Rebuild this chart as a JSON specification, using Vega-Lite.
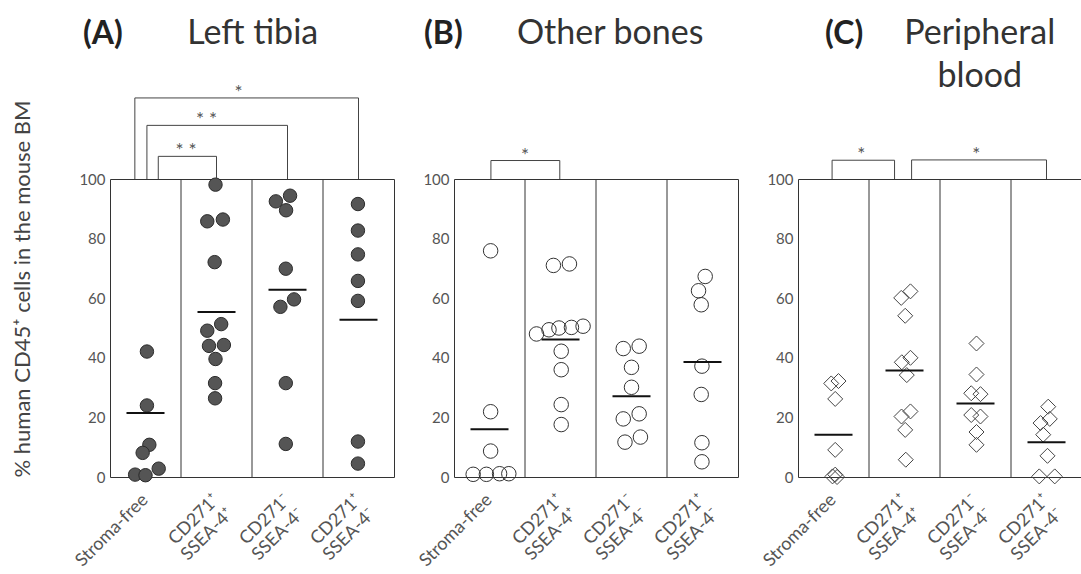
{
  "$schema": "https://vega.github.io/schema/vega-lite/v6.json",
  "padding": {"left": 11, "top": 16, "right": 0, "bottom": 0},
  "background": "white",
  "config": {
    "view": {"stroke": "#333", "strokeWidth": 1},
    "font": "Lato",
    "axis": {"labelFont": "Lato", "titleFont": "Lato", "labelColor": "#555", "labelFontSize": 15}
  },
  "datasets": {
    "points": [
      {"panel": "A", "group": "Stroma-free", "value": 42.1, "jit": 0.1},
      {"panel": "A", "group": "Stroma-free", "value": 24.0, "jit": 0.1},
      {"panel": "A", "group": "Stroma-free", "value": 10.8, "jit": 0.27},
      {"panel": "A", "group": "Stroma-free", "value": 8.1, "jit": -0.2},
      {"panel": "A", "group": "Stroma-free", "value": 2.8, "jit": 0.93},
      {"panel": "A", "group": "Stroma-free", "value": 0.8, "jit": -0.73},
      {"panel": "A", "group": "Stroma-free", "value": 0.6, "jit": 0},
      {"panel": "A", "group": "CD271⁺ SSEA-4⁺", "value": 98.1, "jit": -0.07},
      {"panel": "A", "group": "CD271⁺ SSEA-4⁺", "value": 85.8, "jit": -0.65},
      {"panel": "A", "group": "CD271⁺ SSEA-4⁺", "value": 86.4, "jit": 0.45},
      {"panel": "A", "group": "CD271⁺ SSEA-4⁺", "value": 72.1, "jit": -0.13},
      {"panel": "A", "group": "CD271⁺ SSEA-4⁺", "value": 51.3, "jit": 0.33},
      {"panel": "A", "group": "CD271⁺ SSEA-4⁺", "value": 49.1, "jit": -0.65},
      {"panel": "A", "group": "CD271⁺ SSEA-4⁺", "value": 44.0, "jit": -0.53},
      {"panel": "A", "group": "CD271⁺ SSEA-4⁺", "value": 44.3, "jit": 0.52},
      {"panel": "A", "group": "CD271⁺ SSEA-4⁺", "value": 39.6, "jit": -0.07},
      {"panel": "A", "group": "CD271⁺ SSEA-4⁺", "value": 31.5, "jit": -0.1},
      {"panel": "A", "group": "CD271⁺ SSEA-4⁺", "value": 26.4, "jit": -0.1},
      {"panel": "A", "group": "CD271⁻ SSEA-4⁻", "value": 92.5, "jit": -0.82},
      {"panel": "A", "group": "CD271⁻ SSEA-4⁻", "value": 94.4, "jit": 0.18},
      {"panel": "A", "group": "CD271⁻ SSEA-4⁻", "value": 89.5, "jit": -0.1},
      {"panel": "A", "group": "CD271⁻ SSEA-4⁻", "value": 69.9, "jit": -0.12},
      {"panel": "A", "group": "CD271⁻ SSEA-4⁻", "value": 59.6, "jit": 0.46},
      {"panel": "A", "group": "CD271⁻ SSEA-4⁻", "value": 57.1, "jit": -0.5},
      {"panel": "A", "group": "CD271⁻ SSEA-4⁻", "value": 31.5, "jit": -0.12},
      {"panel": "A", "group": "CD271⁻ SSEA-4⁻", "value": 11.1, "jit": -0.12},
      {"panel": "A", "group": "CD271⁺ SSEA-4⁻", "value": 91.6, "jit": -0.04},
      {"panel": "A", "group": "CD271⁺ SSEA-4⁻", "value": 82.7, "jit": -0.04},
      {"panel": "A", "group": "CD271⁺ SSEA-4⁻", "value": 74.7, "jit": -0.04},
      {"panel": "A", "group": "CD271⁺ SSEA-4⁻", "value": 65.8, "jit": -0.04},
      {"panel": "A", "group": "CD271⁺ SSEA-4⁻", "value": 59.1, "jit": -0.04},
      {"panel": "A", "group": "CD271⁺ SSEA-4⁻", "value": 11.9, "jit": -0.04},
      {"panel": "A", "group": "CD271⁺ SSEA-4⁻", "value": 4.5, "jit": -0.04},
      {"panel": "B", "group": "Stroma-free", "value": 75.9, "jit": 0.08},
      {"panel": "B", "group": "Stroma-free", "value": 21.9, "jit": 0.08},
      {"panel": "B", "group": "Stroma-free", "value": 8.7, "jit": 0.08},
      {"panel": "B", "group": "Stroma-free", "value": 0.9, "jit": -1.15},
      {"panel": "B", "group": "Stroma-free", "value": 0.9, "jit": -0.22},
      {"panel": "B", "group": "Stroma-free", "value": 1.1, "jit": 0.71},
      {"panel": "B", "group": "Stroma-free", "value": 1.1, "jit": 1.36},
      {"panel": "B", "group": "CD271⁺ SSEA-4⁺", "value": 71.0, "jit": -0.5},
      {"panel": "B", "group": "CD271⁺ SSEA-4⁺", "value": 71.5, "jit": 0.63},
      {"panel": "B", "group": "CD271⁺ SSEA-4⁺", "value": 48.0, "jit": -1.69},
      {"panel": "B", "group": "CD271⁺ SSEA-4⁺", "value": 49.4, "jit": -0.81},
      {"panel": "B", "group": "CD271⁺ SSEA-4⁺", "value": 50.0, "jit": -0.11},
      {"panel": "B", "group": "CD271⁺ SSEA-4⁺", "value": 50.2, "jit": 0.77},
      {"panel": "B", "group": "CD271⁺ SSEA-4⁺", "value": 50.6, "jit": 1.59},
      {"panel": "B", "group": "CD271⁺ SSEA-4⁺", "value": 42.2, "jit": 0.05},
      {"panel": "B", "group": "CD271⁺ SSEA-4⁺", "value": 36.0, "jit": 0.05},
      {"panel": "B", "group": "CD271⁺ SSEA-4⁺", "value": 24.3, "jit": 0.05},
      {"panel": "B", "group": "CD271⁺ SSEA-4⁺", "value": 17.6, "jit": 0.05},
      {"panel": "B", "group": "CD271⁻ SSEA-4⁻", "value": 43.1, "jit": -0.58},
      {"panel": "B", "group": "CD271⁻ SSEA-4⁻", "value": 43.9, "jit": 0.54},
      {"panel": "B", "group": "CD271⁻ SSEA-4⁻", "value": 36.8, "jit": 0},
      {"panel": "B", "group": "CD271⁻ SSEA-4⁻", "value": 30.1, "jit": 0},
      {"panel": "B", "group": "CD271⁻ SSEA-4⁻", "value": 19.5, "jit": -0.58},
      {"panel": "B", "group": "CD271⁻ SSEA-4⁻", "value": 21.2, "jit": 0.54},
      {"panel": "B", "group": "CD271⁻ SSEA-4⁻", "value": 11.7, "jit": -0.46},
      {"panel": "B", "group": "CD271⁻ SSEA-4⁻", "value": 13.4, "jit": 0.63},
      {"panel": "B", "group": "CD271⁺ SSEA-4⁻", "value": 67.3, "jit": 0.19},
      {"panel": "B", "group": "CD271⁺ SSEA-4⁻", "value": 62.5, "jit": -0.28},
      {"panel": "B", "group": "CD271⁺ SSEA-4⁻", "value": 57.8, "jit": -0.09},
      {"panel": "B", "group": "CD271⁺ SSEA-4⁻", "value": 37.2, "jit": -0.04},
      {"panel": "B", "group": "CD271⁺ SSEA-4⁻", "value": 27.7, "jit": -0.09},
      {"panel": "B", "group": "CD271⁺ SSEA-4⁻", "value": 11.5, "jit": -0.04},
      {"panel": "B", "group": "CD271⁺ SSEA-4⁻", "value": 5.1, "jit": -0.04},
      {"panel": "C", "group": "Stroma-free", "value": 31.4, "jit": -0.16},
      {"panel": "C", "group": "Stroma-free", "value": 32.2, "jit": 0.35},
      {"panel": "C", "group": "Stroma-free", "value": 26.2, "jit": 0.12},
      {"panel": "C", "group": "Stroma-free", "value": 9.1, "jit": 0.12},
      {"panel": "C", "group": "Stroma-free", "value": 0.2, "jit": -0.07},
      {"panel": "C", "group": "Stroma-free", "value": 0.8, "jit": 0.12},
      {"panel": "C", "group": "Stroma-free", "value": 0.0, "jit": 0.25},
      {"panel": "C", "group": "CD271⁺ SSEA-4⁺", "value": 60.1, "jit": -0.23},
      {"panel": "C", "group": "CD271⁺ SSEA-4⁺", "value": 62.3, "jit": 0.42},
      {"panel": "C", "group": "CD271⁺ SSEA-4⁺", "value": 54.1, "jit": 0.05},
      {"panel": "C", "group": "CD271⁺ SSEA-4⁺", "value": 38.5, "jit": -0.19},
      {"panel": "C", "group": "CD271⁺ SSEA-4⁺", "value": 40.0, "jit": 0.42},
      {"panel": "C", "group": "CD271⁺ SSEA-4⁺", "value": 34.2, "jit": 0.16},
      {"panel": "C", "group": "CD271⁺ SSEA-4⁺", "value": 22.0, "jit": 0.42},
      {"panel": "C", "group": "CD271⁺ SSEA-4⁺", "value": 20.3, "jit": -0.21},
      {"panel": "C", "group": "CD271⁺ SSEA-4⁺", "value": 15.8, "jit": 0.05},
      {"panel": "C", "group": "CD271⁺ SSEA-4⁺", "value": 5.8, "jit": 0.09},
      {"panel": "C", "group": "CD271⁻ SSEA-4⁻", "value": 44.8, "jit": 0.07},
      {"panel": "C", "group": "CD271⁻ SSEA-4⁻", "value": 34.4, "jit": 0.07},
      {"panel": "C", "group": "CD271⁻ SSEA-4⁻", "value": 28.1, "jit": -0.3},
      {"panel": "C", "group": "CD271⁻ SSEA-4⁻", "value": 27.8, "jit": 0.35},
      {"panel": "C", "group": "CD271⁻ SSEA-4⁻", "value": 20.8, "jit": -0.3},
      {"panel": "C", "group": "CD271⁻ SSEA-4⁻", "value": 20.3, "jit": 0.35},
      {"panel": "C", "group": "CD271⁻ SSEA-4⁻", "value": 15.1, "jit": 0.07},
      {"panel": "C", "group": "CD271⁻ SSEA-4⁻", "value": 10.8, "jit": 0.07},
      {"panel": "C", "group": "CD271⁺ SSEA-4⁻", "value": 23.6, "jit": 0.12},
      {"panel": "C", "group": "CD271⁺ SSEA-4⁻", "value": 18.1, "jit": -0.42},
      {"panel": "C", "group": "CD271⁺ SSEA-4⁻", "value": 19.5, "jit": 0.23},
      {"panel": "C", "group": "CD271⁺ SSEA-4⁻", "value": 14.2, "jit": -0.23},
      {"panel": "C", "group": "CD271⁺ SSEA-4⁻", "value": 7.1, "jit": 0.07},
      {"panel": "C", "group": "CD271⁺ SSEA-4⁻", "value": 0.2, "jit": -0.51},
      {"panel": "C", "group": "CD271⁺ SSEA-4⁻", "value": 0.2, "jit": 0.58}
    ],
    "means": [
      {"panel": "A", "group": "Stroma-free", "mean": 21.5},
      {"panel": "A", "group": "CD271⁺ SSEA-4⁺", "mean": 55.4},
      {"panel": "A", "group": "CD271⁻ SSEA-4⁻", "mean": 62.8},
      {"panel": "A", "group": "CD271⁺ SSEA-4⁻", "mean": 52.8},
      {"panel": "B", "group": "Stroma-free", "mean": 16.0},
      {"panel": "B", "group": "CD271⁺ SSEA-4⁺", "mean": 46.1},
      {"panel": "B", "group": "CD271⁻ SSEA-4⁻", "mean": 27.1},
      {"panel": "B", "group": "CD271⁺ SSEA-4⁻", "mean": 38.6},
      {"panel": "C", "group": "Stroma-free", "mean": 14.2},
      {"panel": "C", "group": "CD271⁺ SSEA-4⁺", "mean": 35.7},
      {"panel": "C", "group": "CD271⁻ SSEA-4⁻", "mean": 24.7},
      {"panel": "C", "group": "CD271⁺ SSEA-4⁻", "mean": 11.7}
    ],
    "brackets": [
      {"panel": "A", "x1": 0.35, "x2": 3.5, "y": 127.2, "star": "*", "xs": 1.81},
      {"panel": "A", "x1": 0.52, "x2": 2.5, "y": 118.0, "star": "* *", "xs": 1.36},
      {"panel": "A", "x1": 0.68, "x2": 1.5, "y": 107.6, "star": "* *", "xs": 1.07},
      {"panel": "B", "x1": 0.52, "x2": 1.49, "y": 106.2, "star": "*", "xs": 1.0},
      {"panel": "C", "x1": 0.48, "x2": 1.36, "y": 106.3, "star": "*", "xs": 0.89},
      {"panel": "C", "x1": 1.6, "x2": 3.5, "y": 106.4, "star": "*", "xs": 2.51}
    ],
    "titles": [
      {"panel": "A", "letter": "(A)", "name": "Left tibia"},
      {"panel": "B", "letter": "(B)", "name": "Other bones"},
      {"panel": "C", "letter": "(C)", "name": "Peripheral\nblood"}
    ]
  },
  "spacing": 60,
  "bounds": "flush",
  "hconcat": [
    {
      "width": 284, "height": 298,
      "resolve": {"scale": {"x": "independent"}},
      "layer": [
        {"layer": [
          {"data": {"name": "means"},
           "transform": [{"filter": "datum.panel == 'A' && datum.group != 'Stroma-free'"}],
           "mark": {"type": "rule", "color": "#333", "strokeWidth": 1},
           "encoding": {"x": {"field": "group", "type": "nominal", "bandPosition": 0, "scale": {"type": "band", "domain": ["Stroma-free", "CD271⁺ SSEA-4⁺", "CD271⁻ SSEA-4⁻", "CD271⁺ SSEA-4⁻"], "paddingInner": 0, "paddingOuter": 0}}}},
          {"data": {"name": "points"},
           "transform": [{"filter": "datum.panel == 'A'"}],
           "mark": {"type": "point", "shape": "circle", "filled": true, "fill": "#555", "stroke": "#2b2b2b", "strokeWidth": 1, "size": 180, "opacity": 1},
           "encoding": {
             "x": {"field": "group", "type": "nominal", "scale": {"type": "band", "domain": ["Stroma-free", "CD271⁺ SSEA-4⁺", "CD271⁻ SSEA-4⁻", "CD271⁺ SSEA-4⁻"], "paddingInner": 0, "paddingOuter": 0},
                   "axis": {"title": null, "ticks": false, "domain": false, "grid": false, "labelAngle": -45, "labelAlign": "right", "labelBaseline": "middle", "labelPadding": 20, "labelExpr": "split(datum.value, ' ')", "labelFontSize": 18, "labelLineHeight": 20, "labelOverlap": false, "labelColor": "#555"}},
             "xOffset": {"field": "jit", "type": "quantitative", "scale": {"domain": [-2.5, 2.5]}},
             "y": {"field": "value", "type": "quantitative", "scale": {"domain": [0, 100], "nice": false, "zero": false},
                   "axis": {"values": [0, 20, 40, 60, 80, 100], "ticks": false, "domain": false, "grid": false, "labelPadding": 5, "title": "% human CD45⁺ cells in the mouse BM", "titleFontSize": 22, "titleFontWeight": "normal", "titleColor": "#444", "titlePadding": 44, "titleAnchor": "start"}}}},
          {"data": {"name": "means"},
           "transform": [{"filter": "datum.panel == 'A'"}],
           "mark": {"type": "tick", "color": "#111", "thickness": 2, "size": 38, "opacity": 1},
           "encoding": {
             "x": {"field": "group", "type": "nominal", "scale": {"type": "band", "domain": ["Stroma-free", "CD271⁺ SSEA-4⁺", "CD271⁻ SSEA-4⁻", "CD271⁺ SSEA-4⁻"], "paddingInner": 0, "paddingOuter": 0}},
             "y": {"field": "mean", "type": "quantitative", "scale": {"domain": [0, 100], "nice": false, "zero": false}}}}
        ]},
        {"layer": [
          {"data": {"name": "brackets"}, "transform": [{"filter": "datum.panel == 'A'"}],
           "mark": {"type": "rule", "color": "#444", "strokeWidth": 1},
           "encoding": {"x": {"field": "x1", "type": "quantitative", "scale": {"domain": [0, 4], "nice": false, "zero": false}, "axis": null}, "x2": {"field": "x2"}, "y": {"field": "y", "type": "quantitative", "scale": {"domain": [0, 100], "nice": false, "zero": false}}}},
          {"data": {"name": "brackets"}, "transform": [{"filter": "datum.panel == 'A'"}],
           "mark": {"type": "rule", "color": "#444", "strokeWidth": 1},
           "encoding": {"x": {"field": "x1", "type": "quantitative", "scale": {"domain": [0, 4], "nice": false, "zero": false}, "axis": null}, "y": {"field": "y", "type": "quantitative", "scale": {"domain": [0, 100], "nice": false, "zero": false}}, "y2": {"datum": 100}}},
          {"data": {"name": "brackets"}, "transform": [{"filter": "datum.panel == 'A'"}],
           "mark": {"type": "rule", "color": "#444", "strokeWidth": 1},
           "encoding": {"x": {"field": "x2", "type": "quantitative", "scale": {"domain": [0, 4], "nice": false, "zero": false}, "axis": null}, "y": {"field": "y", "type": "quantitative", "scale": {"domain": [0, 100], "nice": false, "zero": false}}, "y2": {"datum": 100}}},
          {"data": {"name": "brackets"}, "transform": [{"filter": "datum.panel == 'A'"}],
           "mark": {"type": "text", "fontSize": 19, "color": "#555", "baseline": "alphabetic", "dy": 1},
           "encoding": {"x": {"field": "xs", "type": "quantitative", "scale": {"domain": [0, 4], "nice": false, "zero": false}, "axis": null}, "y": {"field": "y", "type": "quantitative", "scale": {"domain": [0, 100], "nice": false, "zero": false}}, "text": {"field": "star"}}},
          {"data": {"name": "titles"}, "transform": [{"filter": "datum.panel == 'A'"}],
           "mark": {"type": "text", "fontSize": 32, "fontWeight": "bold", "color": "#222", "baseline": "alphabetic", "align": "center"},
           "encoding": {"x": {"datum": -0.1, "type": "quantitative", "scale": {"domain": [0, 4], "nice": false, "zero": false}, "axis": null}, "y": {"datum": 145.4, "type": "quantitative", "scale": {"domain": [0, 100], "nice": false, "zero": false}}, "text": {"field": "letter"}}},
          {"data": {"name": "titles"}, "transform": [{"filter": "datum.panel == 'A'"}],
           "mark": {"type": "text", "fontSize": 34, "color": "#333", "baseline": "alphabetic", "align": "center", "lineBreak": "\n", "lineHeight": 43},
           "encoding": {"x": {"datum": 2.01, "type": "quantitative", "scale": {"domain": [0, 4], "nice": false, "zero": false}, "axis": null}, "y": {"datum": 145.4, "type": "quantitative", "scale": {"domain": [0, 100], "nice": false, "zero": false}}, "text": {"field": "name"}}}
        ]}
      ]
    },
    {
      "width": 284, "height": 298,
      "resolve": {"scale": {"x": "independent"}},
      "layer": [
        {"layer": [
          {"data": {"name": "means"},
           "transform": [{"filter": "datum.panel == 'B' && datum.group != 'Stroma-free'"}],
           "mark": {"type": "rule", "color": "#333", "strokeWidth": 1},
           "encoding": {"x": {"field": "group", "type": "nominal", "bandPosition": 0, "scale": {"type": "band", "domain": ["Stroma-free", "CD271⁺ SSEA-4⁺", "CD271⁻ SSEA-4⁻", "CD271⁺ SSEA-4⁻"], "paddingInner": 0, "paddingOuter": 0}}}},
          {"data": {"name": "points"},
           "transform": [{"filter": "datum.panel == 'B'"}],
           "mark": {"type": "point", "shape": "circle", "filled": false, "stroke": "#333", "strokeWidth": 1, "size": 210, "opacity": 1},
           "encoding": {
             "x": {"field": "group", "type": "nominal", "scale": {"type": "band", "domain": ["Stroma-free", "CD271⁺ SSEA-4⁺", "CD271⁻ SSEA-4⁻", "CD271⁺ SSEA-4⁻"], "paddingInner": 0, "paddingOuter": 0},
                   "axis": {"title": null, "ticks": false, "domain": false, "grid": false, "labelAngle": -45, "labelAlign": "right", "labelBaseline": "middle", "labelPadding": 20, "labelExpr": "split(datum.value, ' ')", "labelFontSize": 18, "labelLineHeight": 20, "labelOverlap": false, "labelColor": "#555"}},
             "xOffset": {"field": "jit", "type": "quantitative", "scale": {"domain": [-2.5, 2.5]}},
             "y": {"field": "value", "type": "quantitative", "scale": {"domain": [0, 100], "nice": false, "zero": false},
                   "axis": {"values": [0, 20, 40, 60, 80, 100], "ticks": false, "domain": false, "grid": false, "labelPadding": 5, "title": null}}}},
          {"data": {"name": "means"},
           "transform": [{"filter": "datum.panel == 'B'"}],
           "mark": {"type": "tick", "color": "#111", "thickness": 2, "size": 38, "opacity": 1},
           "encoding": {
             "x": {"field": "group", "type": "nominal", "scale": {"type": "band", "domain": ["Stroma-free", "CD271⁺ SSEA-4⁺", "CD271⁻ SSEA-4⁻", "CD271⁺ SSEA-4⁻"], "paddingInner": 0, "paddingOuter": 0}},
             "y": {"field": "mean", "type": "quantitative", "scale": {"domain": [0, 100], "nice": false, "zero": false}}}}
        ]},
        {"layer": [
          {"data": {"name": "brackets"}, "transform": [{"filter": "datum.panel == 'B'"}],
           "mark": {"type": "rule", "color": "#444", "strokeWidth": 1},
           "encoding": {"x": {"field": "x1", "type": "quantitative", "scale": {"domain": [0, 4], "nice": false, "zero": false}, "axis": null}, "x2": {"field": "x2"}, "y": {"field": "y", "type": "quantitative", "scale": {"domain": [0, 100], "nice": false, "zero": false}}}},
          {"data": {"name": "brackets"}, "transform": [{"filter": "datum.panel == 'B'"}],
           "mark": {"type": "rule", "color": "#444", "strokeWidth": 1},
           "encoding": {"x": {"field": "x1", "type": "quantitative", "scale": {"domain": [0, 4], "nice": false, "zero": false}, "axis": null}, "y": {"field": "y", "type": "quantitative", "scale": {"domain": [0, 100], "nice": false, "zero": false}}, "y2": {"datum": 100}}},
          {"data": {"name": "brackets"}, "transform": [{"filter": "datum.panel == 'B'"}],
           "mark": {"type": "rule", "color": "#444", "strokeWidth": 1},
           "encoding": {"x": {"field": "x2", "type": "quantitative", "scale": {"domain": [0, 4], "nice": false, "zero": false}, "axis": null}, "y": {"field": "y", "type": "quantitative", "scale": {"domain": [0, 100], "nice": false, "zero": false}}, "y2": {"datum": 100}}},
          {"data": {"name": "brackets"}, "transform": [{"filter": "datum.panel == 'B'"}],
           "mark": {"type": "text", "fontSize": 19, "color": "#555", "baseline": "alphabetic", "dy": 1},
           "encoding": {"x": {"field": "xs", "type": "quantitative", "scale": {"domain": [0, 4], "nice": false, "zero": false}, "axis": null}, "y": {"field": "y", "type": "quantitative", "scale": {"domain": [0, 100], "nice": false, "zero": false}}, "text": {"field": "star"}}},
          {"data": {"name": "titles"}, "transform": [{"filter": "datum.panel == 'B'"}],
           "mark": {"type": "text", "fontSize": 32, "fontWeight": "bold", "color": "#222", "baseline": "alphabetic", "align": "center"},
           "encoding": {"x": {"datum": -0.15, "type": "quantitative", "scale": {"domain": [0, 4], "nice": false, "zero": false}, "axis": null}, "y": {"datum": 145.4, "type": "quantitative", "scale": {"domain": [0, 100], "nice": false, "zero": false}}, "text": {"field": "letter"}}},
          {"data": {"name": "titles"}, "transform": [{"filter": "datum.panel == 'B'"}],
           "mark": {"type": "text", "fontSize": 34, "color": "#333", "baseline": "alphabetic", "align": "center", "lineBreak": "\n", "lineHeight": 43},
           "encoding": {"x": {"datum": 2.2, "type": "quantitative", "scale": {"domain": [0, 4], "nice": false, "zero": false}, "axis": null}, "y": {"datum": 145.4, "type": "quantitative", "scale": {"domain": [0, 100], "nice": false, "zero": false}}, "text": {"field": "name"}}}
        ]}
      ]
    },
    {
      "width": 284, "height": 298,
      "resolve": {"scale": {"x": "independent"}},
      "layer": [
        {"layer": [
          {"data": {"name": "means"},
           "transform": [{"filter": "datum.panel == 'C' && datum.group != 'Stroma-free'"}],
           "mark": {"type": "rule", "color": "#333", "strokeWidth": 1},
           "encoding": {"x": {"field": "group", "type": "nominal", "bandPosition": 0, "scale": {"type": "band", "domain": ["Stroma-free", "CD271⁺ SSEA-4⁺", "CD271⁻ SSEA-4⁻", "CD271⁺ SSEA-4⁻"], "paddingInner": 0, "paddingOuter": 0}}}},
          {"data": {"name": "points"},
           "transform": [{"filter": "datum.panel == 'C'"}],
           "mark": {"type": "point", "shape": "diamond", "filled": false, "stroke": "#444", "strokeWidth": 1, "size": 225, "opacity": 1},
           "encoding": {
             "x": {"field": "group", "type": "nominal", "scale": {"type": "band", "domain": ["Stroma-free", "CD271⁺ SSEA-4⁺", "CD271⁻ SSEA-4⁻", "CD271⁺ SSEA-4⁻"], "paddingInner": 0, "paddingOuter": 0},
                   "axis": {"title": null, "ticks": false, "domain": false, "grid": false, "labelAngle": -45, "labelAlign": "right", "labelBaseline": "middle", "labelPadding": 20, "labelExpr": "split(datum.value, ' ')", "labelFontSize": 18, "labelLineHeight": 20, "labelOverlap": false, "labelColor": "#555"}},
             "xOffset": {"field": "jit", "type": "quantitative", "scale": {"domain": [-2.5, 2.5]}},
             "y": {"field": "value", "type": "quantitative", "scale": {"domain": [0, 100], "nice": false, "zero": false},
                   "axis": {"values": [0, 20, 40, 60, 80, 100], "ticks": false, "domain": false, "grid": false, "labelPadding": 5, "title": null}}}},
          {"data": {"name": "means"},
           "transform": [{"filter": "datum.panel == 'C'"}],
           "mark": {"type": "tick", "color": "#111", "thickness": 2, "size": 38, "opacity": 1},
           "encoding": {
             "x": {"field": "group", "type": "nominal", "scale": {"type": "band", "domain": ["Stroma-free", "CD271⁺ SSEA-4⁺", "CD271⁻ SSEA-4⁻", "CD271⁺ SSEA-4⁻"], "paddingInner": 0, "paddingOuter": 0}},
             "y": {"field": "mean", "type": "quantitative", "scale": {"domain": [0, 100], "nice": false, "zero": false}}}}
        ]},
        {"layer": [
          {"data": {"name": "brackets"}, "transform": [{"filter": "datum.panel == 'C'"}],
           "mark": {"type": "rule", "color": "#444", "strokeWidth": 1},
           "encoding": {"x": {"field": "x1", "type": "quantitative", "scale": {"domain": [0, 4], "nice": false, "zero": false}, "axis": null}, "x2": {"field": "x2"}, "y": {"field": "y", "type": "quantitative", "scale": {"domain": [0, 100], "nice": false, "zero": false}}}},
          {"data": {"name": "brackets"}, "transform": [{"filter": "datum.panel == 'C'"}],
           "mark": {"type": "rule", "color": "#444", "strokeWidth": 1},
           "encoding": {"x": {"field": "x1", "type": "quantitative", "scale": {"domain": [0, 4], "nice": false, "zero": false}, "axis": null}, "y": {"field": "y", "type": "quantitative", "scale": {"domain": [0, 100], "nice": false, "zero": false}}, "y2": {"datum": 100}}},
          {"data": {"name": "brackets"}, "transform": [{"filter": "datum.panel == 'C'"}],
           "mark": {"type": "rule", "color": "#444", "strokeWidth": 1},
           "encoding": {"x": {"field": "x2", "type": "quantitative", "scale": {"domain": [0, 4], "nice": false, "zero": false}, "axis": null}, "y": {"field": "y", "type": "quantitative", "scale": {"domain": [0, 100], "nice": false, "zero": false}}, "y2": {"datum": 100}}},
          {"data": {"name": "brackets"}, "transform": [{"filter": "datum.panel == 'C'"}],
           "mark": {"type": "text", "fontSize": 19, "color": "#555", "baseline": "alphabetic", "dy": 1},
           "encoding": {"x": {"field": "xs", "type": "quantitative", "scale": {"domain": [0, 4], "nice": false, "zero": false}, "axis": null}, "y": {"field": "y", "type": "quantitative", "scale": {"domain": [0, 100], "nice": false, "zero": false}}, "text": {"field": "star"}}},
          {"data": {"name": "titles"}, "transform": [{"filter": "datum.panel == 'C'"}],
           "mark": {"type": "text", "fontSize": 32, "fontWeight": "bold", "color": "#222", "baseline": "alphabetic", "align": "center"},
           "encoding": {"x": {"datum": 0.65, "type": "quantitative", "scale": {"domain": [0, 4], "nice": false, "zero": false}, "axis": null}, "y": {"datum": 145.4, "type": "quantitative", "scale": {"domain": [0, 100], "nice": false, "zero": false}}, "text": {"field": "letter"}}},
          {"data": {"name": "titles"}, "transform": [{"filter": "datum.panel == 'C'"}],
           "mark": {"type": "text", "fontSize": 34, "color": "#333", "baseline": "alphabetic", "align": "center", "lineBreak": "\n", "lineHeight": 43},
           "encoding": {"x": {"datum": 2.56, "type": "quantitative", "scale": {"domain": [0, 4], "nice": false, "zero": false}, "axis": null}, "y": {"datum": 145.4, "type": "quantitative", "scale": {"domain": [0, 100], "nice": false, "zero": false}}, "text": {"field": "name"}}}
        ]}
      ]
    }
  ]
}
